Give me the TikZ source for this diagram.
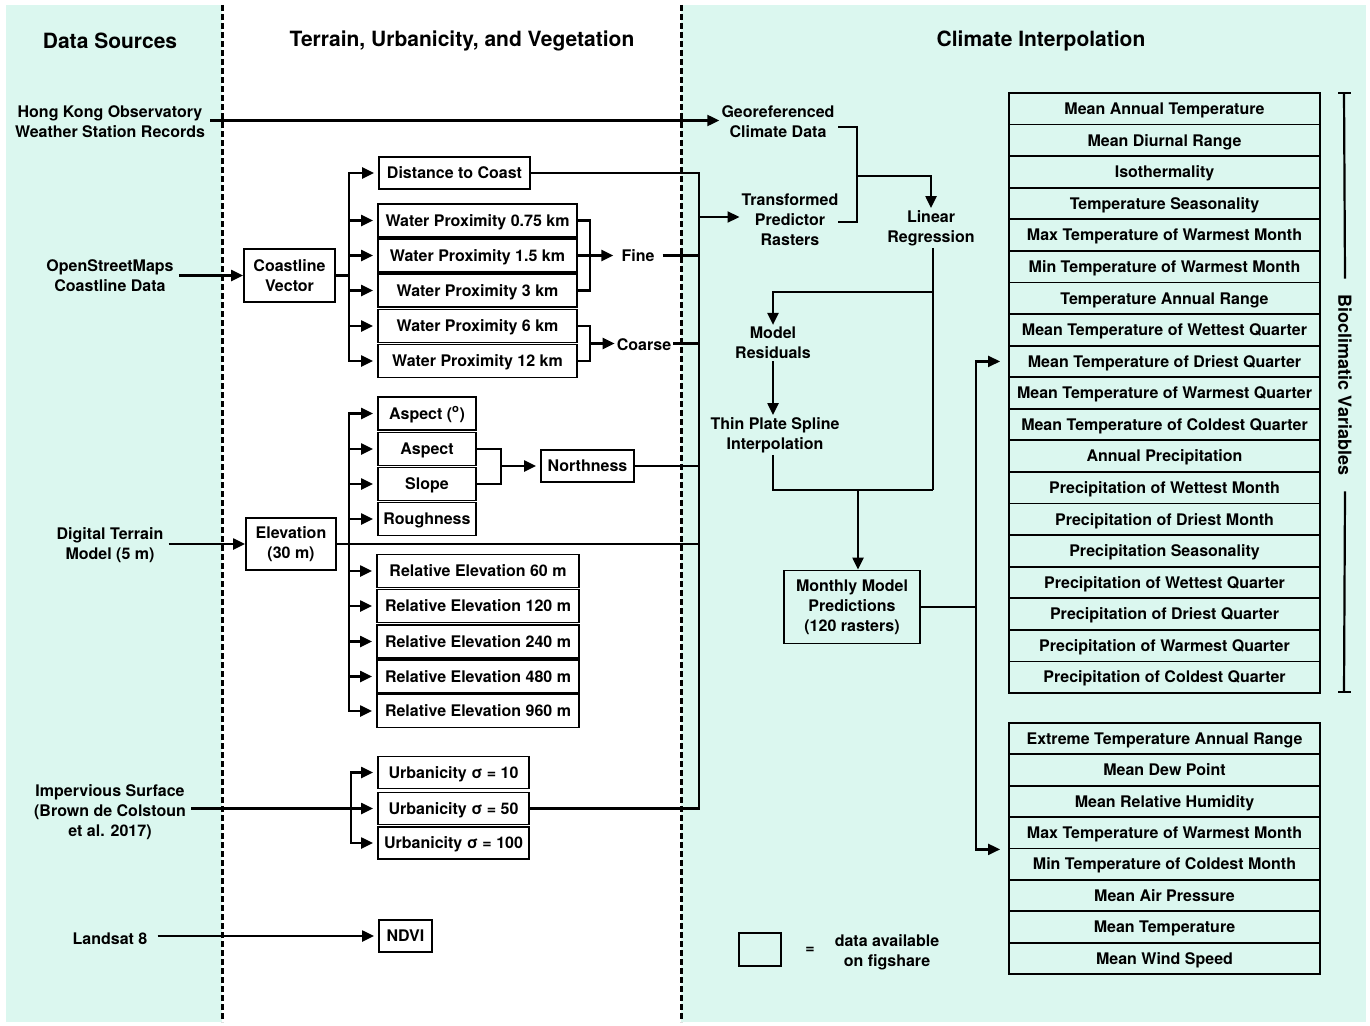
\documentclass[tikz,border=0pt]{standalone}
\usepackage{fontspec}
\setmainfont{TeX Gyre Heros}
\usetikzlibrary{arrows.meta,calc}
\definecolor{teal0}{RGB}{219,247,239}
\begin{document}
\begin{tikzpicture}[x=1pt,y=-1pt,
  every node/.style={font=\fontsize{16}{20}\selectfont\bfseries, inner sep=2pt},
  box/.style={draw, line width=1.8pt, inner sep=0pt, text height=12.5pt, text depth=1pt},
  lbl/.style={align=center},
  src/.style={align=center, inner xsep=5pt},
  ln/.style={line width=2.2pt},
  arr/.style={line width=2.2pt, -{Triangle[length=12pt,width=11pt]}},
  arrb/.style={arr, shorten >=4pt},
  hdr/.style={font=\fontsize{21}{24}\selectfont\bfseries},
  rowbox/.style={draw, line width=1.8pt, minimum width=311pt, inner sep=0pt, text height=12.5pt, text depth=1pt},
  divider/.style={line width=3pt, dash pattern=on 6pt off 3pt},
]
\useasboundingbox (0,0) rectangle (1370,1025);
% backgrounds
\fill[teal0] (6,5) rectangle (222,1022);
\fill[teal0] (681,5) rectangle (1366,1022);
\draw[divider] (222,5) -- (222,1022);
\draw[divider] (681,5) -- (681,1022);

% headers
\node[hdr] (hds) at (110,41) {Data Sources};
\node[hdr] (hdt) at (462,41) {Terrain, Urbanicity, and Vegetation};
\node[hdr] (hdc) at (1041,41) {Climate Interpolation};

% sources
\node[src] (hko) at (110,122) {Hong Kong Observatory\\Weather Station Records};
\node[src] (osm) at (110,276) {OpenStreetMaps\\Coastline Data};
\node[src] (dtm) at (110,545) {Digital Terrain\\Model (5 m)};
\node[src] (imp) at (110,812) {Impervious Surface\\(Brown de Colstoun\\et al. 2017)};
\node[src, inner xsep=10pt] (lsat) at (110,939) {Landsat 8};

% coastline
\node[box, minimum width=91pt, minimum height=53pt, align=center, text height=, text depth=] (coast) at (289.5,275.5) {Coastline\\Vector};
\node[box, minimum width=151pt, minimum height=32pt] (dist) at (454.5,173) {Distance to Coast};
\node[box, minimum width=199pt, minimum height=33pt] (wp1) at (477.5,220.5) {Water Proximity 0.75 km};
\node[box, minimum width=199pt, minimum height=33pt] (wp2) at (477.5,255.5) {Water Proximity 1.5 km};
\node[box, minimum width=199pt, minimum height=33pt] (wp3) at (477.5,290.5) {Water Proximity 3 km};
\node[box, minimum width=199pt, minimum height=33pt] (wp4) at (477.5,326) {Water Proximity 6 km};
\node[box, minimum width=199pt, minimum height=33pt] (wp5) at (477.5,361) {Water Proximity 12 km};
\node[inner xsep=8pt] (fine) at (638,256) {Fine};
\node[inner xsep=2pt] (coarse) at (644,345) {Coarse};

% elevation
\node[box, minimum width=90pt, minimum height=52pt, align=center, text height=, text depth=] (elev) at (291,544) {Elevation\\(30 m)};
\node[box, minimum width=98pt, minimum height=33pt] (a1) at (427,413.5) {Aspect (\textsuperscript{o})};
\node[box, minimum width=98pt, minimum height=33pt] (a2) at (427,449) {Aspect};
\node[box, minimum width=98pt, minimum height=33pt] (a3) at (427,484) {Slope};
\node[box, minimum width=98pt, minimum height=33pt] (a4) at (427,519) {Roughness};
\node[box, minimum width=93pt, minimum height=32pt] (north) at (587.5,466) {Northness};
\node[box, minimum width=202pt, minimum height=33pt] (r1) at (478,571) {Relative Elevation 60 m};
\node[box, minimum width=202pt, minimum height=33pt] (r2) at (478,606) {Relative Elevation 120 m};
\node[box, minimum width=202pt, minimum height=33pt] (r3) at (478,641.5) {Relative Elevation 240 m};
\node[box, minimum width=202pt, minimum height=33pt] (r4) at (478,676.5) {Relative Elevation 480 m};
\node[box, minimum width=202pt, minimum height=33pt] (r5) at (478,711) {Relative Elevation 960 m};

% urbanicity / ndvi
\node[box, minimum width=151pt, minimum height=32pt] (u1) at (453.5,772.5) {Urbanicity σ = 10};
\node[box, minimum width=151pt, minimum height=32pt] (u2) at (453.5,808.5) {Urbanicity σ = 50};
\node[box, minimum width=151pt, minimum height=32pt] (u3) at (453.5,843) {Urbanicity σ = 100};
\node[box, minimum width=53pt, minimum height=32pt] (ndvi) at (405.5,936) {NDVI};

% climate interpolation
\node[lbl] (geo) at (778,122) {Georeferenced\\Climate Data};
\node[lbl] (trans) at (790,220) {Transformed\\Predictor\\Rasters};
\node[lbl] (lin) at (931,228) {Linear\\Regression};
\node[lbl] (mres) at (773,343) {Model\\Residuals};
\node[lbl] (tps) at (775,435) {Thin Plate Spline\\Interpolation};
\node[box, minimum width=136pt, minimum height=73pt, align=center, text height=, text depth=] (month) at (852,607) {Monthly Model\\Predictions\\(120 rasters)};

\foreach [count=\i from 0] \t in {Mean Annual Temperature, Mean Diurnal Range, Isothermality, Temperature Seasonality, Max Temperature of Warmest Month, Min Temperature of Warmest Month, Temperature Annual Range, Mean Temperature of Wettest Quarter, Mean Temperature of Driest Quarter, Mean Temperature of Warmest Quarter, Mean Temperature of Coldest Quarter, Annual Precipitation, Precipitation of Wettest Month, Precipitation of Driest Month, Precipitation Seasonality, Precipitation of Wettest Quarter, Precipitation of Driest Quarter, Precipitation of Warmest Quarter, Precipitation of Coldest Quarter}
  \node[rowbox, minimum height=31.58pt] (bio\i) at (1164.5,{93+31.58*(\i+0.5)}) {\t};

\foreach [count=\i from 0] \t in {Extreme Temperature Annual Range, Mean Dew Point, Mean Relative Humidity, Max Temperature of Warmest Month, Min Temperature of Coldest Month, Mean Air Pressure, Mean Temperature, Mean Wind Speed}
  \node[rowbox, minimum height=31.375pt] (ex\i) at (1164.5,{723+31.375*(\i+0.5)}) {\t};

\node[rotate=-90, font=\fontsize{18}{20}\selectfont\bfseries, inner xsep=16pt, inner ysep=0pt] (biolab) at (1345,385) {Bioclimatic Variables};
\coordinate (brT) at (1344,93);
\coordinate (brB) at (1344,692);
\draw[ln] (1338,93) -- (1351,93);
\draw[ln] (1338,692) -- (1351,692);
\draw[ln] (brT) -- (biolab.west);
\draw[ln] (biolab.east) -- (brB);

% legend
\node[box, minimum width=42pt, minimum height=33pt] (leg) at (760,949.5) {};
\node (eq) at (810,950) {=};
\node[lbl] (legt) at (887,952) {data available\\on figshare};

% ---------- connectors ----------
\draw[arr] (hko.east |- 0,120.5) -- (geo.west |- 0,120.5);
\draw[arr] (osm.east |- coast.west) -- (coast.west);
\draw[arr] (dtm.east |- elev.west) -- (elev.west);
\draw[arrb] (imp.east |- u2.west) -- (u2.west);
\draw[arrb] (lsat.east |- ndvi.west) -- (ndvi.west);

% coastline branch
\coordinate (cb) at (349,275.5);
\draw[ln] (coast.east) -- (cb);
\foreach \n in {dist,wp1,wp2,wp3,wp4,wp5} \draw[arrb] (cb) |- (\n.west);

% fine / coarse
\coordinate (fj) at (590,255.5);
\coordinate (cj) at (590,343.5);
\draw[ln] (wp1.east) -| (fj) |- (wp3.east);
\draw[arr] (wp2.east) -- (fine.west |- wp2.east);
\draw[ln] (wp4.east) -| (cj) |- (wp5.east);
\draw[arr] (cj) -- (coarse.west |- cj);

% elevation branch
\coordinate (eb) at (349,544);
\foreach \n in {a1,a2,a3,a4,r1,r2,r3,r4,r5} \draw[arrb] (eb) |- (\n.west);
\coordinate (nj) at (501,466);
\draw[ln] (a2.east) -| (nj) |- (a3.east);
\draw[arrb] (nj) -- (north.west);

% urbanicity branch
\coordinate (ub) at (351,808.5);
\draw[arrb] (ub) |- (u1.west);
\draw[arrb] (ub) |- (u3.west);

% collector
\coordinate (colT) at (699,173);
\coordinate (colB) at (699,808.5);
\coordinate (colTr) at (699,217);
\draw[ln] (dist.east) -- (colT) -- (colB) -- (u2.east);
\draw[ln] (fine.east |- wp2.east) -- (wp2.east -| colT);
\draw[ln] (coarse.east |- cj) -- (cj -| colT);
\draw[ln] (north.east) -- (north.east -| colT);
\draw[ln] (elev.east) -- (elev.east -| colT);
\draw[arr] (colTr) -- (colTr -| trans.west);

% georef + transformed -> linear regression
\coordinate (gA) at (838,127);
\coordinate (tA) at (838,222);
\coordinate (gj) at (857,176);
\draw[ln] (gA) -| (gj) |- (tA);
\draw[arr] (gj) -| (lin.north);

% regression -> residuals -> tps -> predictions
\coordinate (lr) at (933,292);
\coordinate (jb) at (933,490);
\coordinate (jm) at (858,490);
\draw[ln] (lin.south -| jb) -- (jb);
\draw[arr] (lr) -| (mres.north);
\draw[arr] (mres.south) -- (mres.south |- tps.north);
\draw[ln] (tps.south -| mres.south) |- (jb);
\draw[arr] (jm) -- (jm |- month.north);

% predictions -> outputs
\coordinate (mj) at (976,607);
\draw[ln] (month.east) -- (mj);
\draw[arr, shorten >=8pt] (mj) |- (bio8.west);
\draw[arr, shorten >=8pt] (mj) |- (ex3.south west);
\end{tikzpicture}
\end{document}
